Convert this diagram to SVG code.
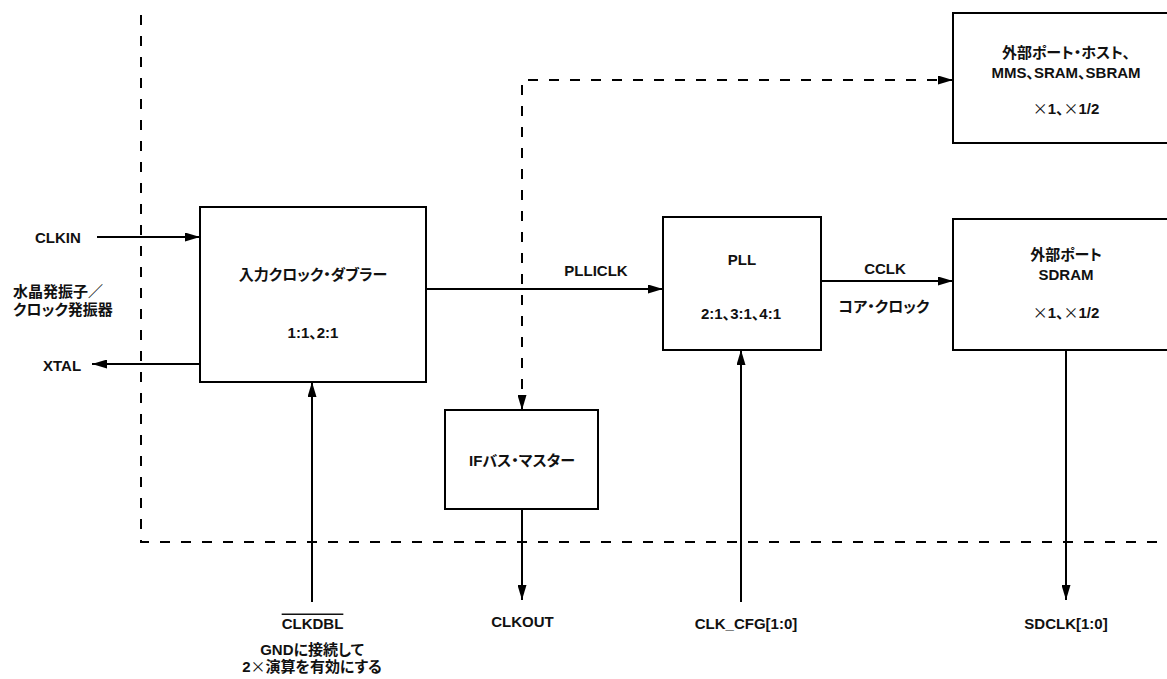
<svg xmlns="http://www.w3.org/2000/svg" width="1167" height="679" viewBox="0 0 1167 679">
<style>
.bx{fill:#fff;stroke:#000;stroke-width:2}
.ln{fill:none;stroke:#000;stroke-width:2}
.dash{fill:none;stroke:#000;stroke-width:2;stroke-dasharray:10 11}
text{font-family:"Liberation Sans","Noto Sans CJK JP",sans-serif;font-weight:bold;fill:#111;font-feature-settings:"palt"}
.t{font-size:15px}
.j{font-size:15px}
.c{text-anchor:middle}
.x{font-family:"Noto Sans CJK JP",sans-serif;font-weight:normal}
</style>
<defs>
<marker id="ah" viewBox="0 0 15 9" refX="15" refY="4.5" markerWidth="15" markerHeight="9" markerUnits="userSpaceOnUse" orient="auto-start-reverse">
<path d="M0,0 L15,4.5 L0,9 z" fill="#000"/>
</marker>
</defs>
<rect width="1167" height="679" fill="#fff"/>
<path id="boundary" class="dash" d="M141,15 V542 H1167"/>

<g id="connectors">
<line class="ln" x1="97" y1="237" x2="200" y2="237" marker-end="url(#ah)"/>
<line class="ln" x1="200" y1="364" x2="92" y2="364" marker-end="url(#ah)"/>
<line class="ln" x1="426" y1="289" x2="663" y2="289" marker-end="url(#ah)"/>
<line class="ln" x1="821" y1="281" x2="953" y2="281" marker-end="url(#ah)"/>
<path class="dash" d="M522,410 V80 H953" marker-start="url(#ah)" marker-end="url(#ah)"/>
<line class="ln" x1="522" y1="509" x2="522" y2="600" marker-end="url(#ah)"/>
<line class="ln" x1="312" y1="602" x2="312" y2="382" marker-end="url(#ah)"/>
<line class="ln" x1="741" y1="602" x2="741" y2="350" marker-end="url(#ah)"/>
<line class="ln" x1="1066" y1="350" x2="1066" y2="600" marker-end="url(#ah)"/>
</g>

<g id="doubler">
<rect class="bx" x="200" y="207" width="226" height="175"/>
<text class="j c" x="313" y="280">入力クロック・ダブラー</text>
<text class="t c" x="313" y="337.5">1:1、2:1</text>
</g>

<g id="pll">
<rect class="bx" x="663" y="217" width="158" height="133"/>
<text class="t c" x="742" y="264.5">PLL</text>
<text class="t c" x="741" y="318.5">2:1、3:1、4:1</text>
</g>

<g id="sdram">
<rect class="bx" x="953" y="219" width="230" height="131"/>
<text class="j c" x="1066" y="260">外部ポート</text>
<text class="t c" x="1066" y="279.5">SDRAM</text>
<text class="t c" x="1066" y="317.5"><tspan class="x">×</tspan>1、<tspan class="x">×</tspan>1/2</text>
</g>

<g id="hostport">
<rect class="bx" x="953" y="13" width="230" height="130"/>
<text class="j c" x="1066" y="58">外部ポート・ホスト、</text>
<text class="t c" x="1066" y="77.5">MMS、SRAM、SBRAM</text>
<text class="t c" x="1066" y="113.5"><tspan class="x">×</tspan>1、<tspan class="x">×</tspan>1/2</text>
</g>

<g id="ifbus">
<rect class="bx" x="445" y="410" width="153" height="99"/>
<text class="j c" x="522" y="466">IFバス・マスター</text>
</g>

<g id="labels">
<text class="t" x="35" y="243">CLKIN</text>
<text class="j" x="13" y="297">水晶発振子／</text>
<text class="j" x="13" y="315">クロック発振器</text>
<text class="t" x="43" y="371">XTAL</text>
<text class="t c" x="596" y="276">PLLICLK</text>
<text class="t c" x="885" y="273.5">CCLK</text>
<text class="j c" x="884" y="312">コア・クロック</text>
<text class="t c" x="522.5" y="626.5">CLKOUT</text>
<text class="t c" x="312.5" y="628.5" text-decoration="overline">CLKDBL</text>
<text class="j c" x="312" y="655">GNDに接続して</text>
<text class="j c" x="312" y="672">2<tspan class="x">×</tspan>演算を有効にする</text>
<text class="t c" x="746" y="628.5">CLK_CFG[1:0]</text>
<text class="t c" x="1066" y="628.5">SDCLK[1:0]</text>
</g>
</svg>
